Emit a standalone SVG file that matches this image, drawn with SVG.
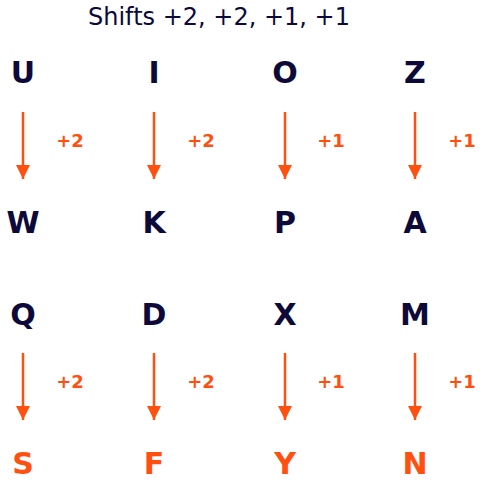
<svg xmlns="http://www.w3.org/2000/svg" width="482" height="480" viewBox="0 0 482 480">
<style>
.t{font-family:"DejaVu Sans",sans-serif;font-size:24px;fill:#0d0a3a;text-anchor:middle}
.l{font-family:"DejaVu Sans",sans-serif;font-weight:bold;font-size:30px;text-anchor:middle;fill:#0d0a3a}
.r{fill:#ff5010}
.s{font-family:"DejaVu Sans",sans-serif;font-weight:bold;font-size:18px;text-anchor:middle;fill:#ff5010}
.a{stroke:#ff5010;stroke-width:2.5;fill:none}
</style>
<defs>
<marker id="ah" markerWidth="14" markerHeight="14" viewBox="0 0 14 14" refX="14" refY="7" orient="auto" markerUnits="userSpaceOnUse">
<path d="M0,0 L14,7 L0,14 z" fill="#ff5010"/>
</marker>
</defs>
<text class="t" x="219" y="25">Shifts +2, +2, +1, +1</text>
<g id="connectors">
<line class="a" x1="23" y1="112" x2="23" y2="179" marker-end="url(#ah)"/>
<line class="a" x1="154" y1="112" x2="154" y2="179" marker-end="url(#ah)"/>
<line class="a" x1="285" y1="112" x2="285" y2="179" marker-end="url(#ah)"/>
<line class="a" x1="415" y1="112" x2="415" y2="179" marker-end="url(#ah)"/>
<line class="a" x1="23" y1="353" x2="23" y2="420" marker-end="url(#ah)"/>
<line class="a" x1="154" y1="353" x2="154" y2="420" marker-end="url(#ah)"/>
<line class="a" x1="285" y1="353" x2="285" y2="420" marker-end="url(#ah)"/>
<line class="a" x1="415" y1="353" x2="415" y2="420" marker-end="url(#ah)"/>
<text class="s" x="70" y="147">+2</text>
<text class="s" x="201" y="147">+2</text>
<text class="s" x="331" y="147">+1</text>
<text class="s" x="462" y="147">+1</text>
<text class="s" x="70" y="388">+2</text>
<text class="s" x="201" y="388">+2</text>
<text class="s" x="331" y="388">+1</text>
<text class="s" x="462" y="388">+1</text>
</g>
<g id="n-U"><text class="l" x="23" y="83">U</text></g>
<g id="n-I"><text class="l" x="154" y="83">I</text></g>
<g id="n-O"><text class="l" x="285" y="83">O</text></g>
<g id="n-Z"><text class="l" x="415" y="83">Z</text></g>
<g id="n-W"><text class="l" x="23" y="233">W</text></g>
<g id="n-K"><text class="l" x="154" y="233">K</text></g>
<g id="n-P"><text class="l" x="285" y="233">P</text></g>
<g id="n-A"><text class="l" x="415" y="233">A</text></g>
<g id="n-Q"><text class="l" x="23" y="325">Q</text></g>
<g id="n-D"><text class="l" x="154" y="325">D</text></g>
<g id="n-X"><text class="l" x="285" y="325">X</text></g>
<g id="n-M"><text class="l" x="415" y="325">M</text></g>
<g id="n-S"><text class="l r" x="23" y="474">S</text></g>
<g id="n-F"><text class="l r" x="154" y="474">F</text></g>
<g id="n-Y"><text class="l r" x="285" y="474">Y</text></g>
<g id="n-N"><text class="l r" x="415" y="474">N</text></g>
</svg>
